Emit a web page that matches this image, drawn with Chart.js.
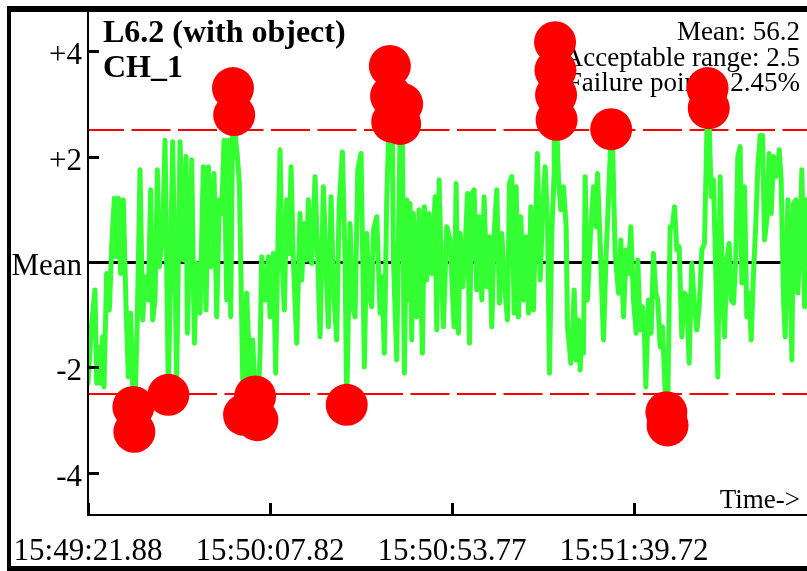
<!DOCTYPE html>
<html>
<head>
<meta charset="utf-8">
<title>L6.2 (with object) CH_1</title>
<script src="https://cdn.jsdelivr.net/npm/chart.js@4.4.0/dist/chart.umd.min.js"></script>
<style>
    html, body { margin: 0; padding: 0; background: #fff; }
    canvas { display: block; }
</style>
</head>
<body>
<canvas id="myChart" width="807" height="571"></canvas>
<script>
// seconds since 15:49:21.88
var times = [
    0.0, 0.93, 1.77, 2.19, 2.61, 3.20, 3.70, 4.04, 4.71, 5.39,
    5.98, 6.65, 7.07, 7.66, 8.25, 8.92, 9.60, 10.18, 10.77, 11.45,
    11.70, 12.46, 13.13, 13.80, 14.39, 15.23, 15.82, 16.33, 16.92, 17.51,
    18.01, 18.85, 19.44, 20.29, 21.38, 22.39, 23.23, 24.07, 24.75, 25.08,
    26.18, 26.85, 27.44, 28.28, 29.12, 29.80, 30.39, 31.06, 31.82, 32.49,
    33.16, 33.75, 34.34, 35.01, 35.44, 36.02, 36.6, 36.9, 37.3, 37.71,
    38.21, 39.05, 39.39, 40.06, 40.91, 41.58, 42.17, 42.76, 43.43, 43.85,
    44.69, 45.54,
    45.95, 46.79, 47.38, 47.89, 48.48, 49.07, 49.57, 50.16, 50.75, 51.26,
    51.84, 52.69, 53.53, 53.95, 54.62, 55.21, 55.63, 56.47, 57.32, 57.99,
    58.58, 59.42, 60.01, 60.68, 61.36, 61.94, 62.79, 63.38, 64.22, 64.89,
    65.31, 66.15, 66.74, 67.42, 68.09, 68.93, 69.77, 70.36, 70.95, 71.62,
    72.05, 72.89, 73.73, 74.15, 74.82, 75.41, 75.83, 76.2, 76.5, 76.8,
    77.1, 77.94, 78.36, 78.8, 79.3, 79.62, 79.87, 80.46, 80.88, 81.30,
    81.72, 82.15, 82.99, 83.58, 84.42, 84.92, 85.51, 86.10, 86.78, 87.62,
    88.04, 88.63, 89.13, 89.72, 90.56, 91.40,
    92.42, 92.93, 93.51, 93.94, 94.61, 95.20, 95.79, 96.29, 96.88, 97.47,
    98.14, 98.82, 99.41, 99.99, 100.67, 101.34, 101.93, 102.52, 103.19, 103.87,
    104.46, 105.30, 105.89, 106.39, 106.98, 107.57, 108.08, 108.66, 109.25, 109.93,
    110.60, 111.19, 111.78, 112.45, 113.13, 113.46, 114.14, 114.81, 115.40, 115.99,
    116.49, 117.08, 117.67, 117.9, 118.0, 118.15, 118.3, 118.77, 119.35, 120.03,
    120.70, 121.04, 121.54, 121.88, 122.38, 122.72, 123.23, 123.82, 124.24, 124.66,
    125.08, 125.50, 126.09, 126.76, 127.60, 128.28, 128.61, 129.29, 129.71, 130.13,
    130.80, 131.39, 132.06, 132.48, 133.07, 133.92, 134.51, 135.18, 135.85, 136.44,
    137.03, 137.70, 138.38,
    138.79, 139.38, 139.97, 140.47, 140.81, 141.48, 142.16, 142.74, 143.33, 143.84,
    144.43, 145.02, 145.69, 146.0, 146.3, 146.95, 147.54, 148.05, 148.64, 149.23,
    149.90, 150.57, 151.16, 151.75, 152.42, 153.10, 153.69, 154.28, 154.95, 155.62,
    156.21, 156.4, 156.7, 157.31, 157.90, 158.48, 158.99, 159.58, 160.17, 160.67,
    161.26, 161.85, 162.36, 162.95, 163.53, 164.04, 164.63, 165.05, 165.72, 166.31,
    166.90, 167.41, 167.99, 168.58, 169.09, 169.68, 170.27, 170.77, 171.36, 171.95,
    172.46, 173.05, 173.63, 174.14, 174.48, 174.98, 175.57, 176.00, 176.67, 177.26,
    177.68, 178.10, 178.69, 179.19, 179.78, 180.20, 180.87, 181.46
];

// deviation from the mean
var values = [
    -2.30, -1.16, -0.53, -2.30, -1.61, -2.30, -1.42, -2.37, -0.22, -0.91,
    0.29, 1.21, 0.10, 1.21, -0.22, 1.18, -0.85, -2.18, -0.97, -2.75,
    -3.22, -1.04, 1.75, -1.10, -0.28, -0.72, 1.37, -1.10, -0.72, 1.75,
    -0.09, 0.54, 2.31, -2.52, 2.28, -2.18, 2.28, 0.04, 2.00, -1.35,
    1.94, -1.54, -0.03, -0.97, 1.81, -0.91, 1.81, -0.09, 1.68, -1.04,
    1.18, 0.92, 2.31, -0.72, 2.31, -1.04, 3.30, 2.79, 2.31, 2.00,
    1.49, -2.18, -2.90, -0.59, -2.24, -1.48, -2.55, -3.00, -1.73, 0.10,
    -0.72, 0.10,
    -1.04, 0.16, -2.11, 0.16, 2.13, -0.09, -0.91, 1.18, 0.16, 1.81,
    0.04, -1.54, 0.92, -0.34, 0.73, 0.04, 1.18, -0.03, 1.62, 0.04,
    -1.42, 1.43, 0.10, -1.23, 1.24, -0.47, -1.48, 1.05, 2.09, 0.04,
    -2.71, 0.73, -0.85, -1.04, 1.75, 2.06, -1.99, 0.54, -0.59, -0.85,
    0.61, 0.86, -0.97, -0.28, -1.73, 1.18, 2.25, 3.72, 3.15, 2.66,
    0.04, -1.86, 0.35, 2.62, 3.00, -0.09, -2.11, 1.18, -0.72, 1.11,
    -1.48, 0.92, -1.04, 0.99, -1.73, 1.05, -0.34, 0.92, -0.22, 1.24,
    -1.29, 1.56, 0.04, -1.23, 0.67, 0.42,
    -1.23, 1.49, -1.35, 0.54, -0.47, 0.23, 1.30, -1.54, 1.30, 1.37,
    -0.53, 0.86, -0.72, 1.24, -0.47, 0.48, -1.23, 0.54, 1.37, -0.78,
    0.54, -0.59, -1.10, 1.49, 1.62, -0.97, 1.43, -1.04, 0.86, -0.72,
    0.48, -0.97, 1.05, -0.91, 1.11, 2.06, -0.34, 1.05, 1.81, 0.80,
    -2.11, 0.54, 1.68, 4.17, 3.64, 3.17, 2.70, 1.56, 0.99, 1.43,
    0.67, -1.23, -1.61, -1.92, -1.23, -0.53, -1.86, -1.10, -2.05, -1.23,
    -1.73, 1.62, -0.72, 0.42, 1.43, 0.67, 1.68, 0.35, -0.59, -1.48,
    0.16, 1.18, 2.52, 2.06, 0.16, -0.59, 0.42, -1.04, 0.23, -0.22,
    0.67, -0.72, -1.35,
    0.04, -1.29, -0.85, -1.35, -2.37, -0.72, -1.35, 0.16, -0.59, -0.72,
    -1.61, -1.23, -2.43, -2.85, -3.10, 0.67, 0.67, 1.05, 0.23, 0.29,
    -1.42, -0.59, -0.66, -1.92, -0.03, -0.85, -1.29, -0.85, 0.23, 0.35,
    2.40, 3.30, 2.92, 1.24, 1.56, -0.22, -2.18, 1.62, -0.47, -1.42,
    0.04, 0.35, -0.72, -0.78, 0.10, 2.00, 2.19, -0.40, 1.43, -1.04,
    -0.59, -1.48, -0.22, 0.73, 1.81, 2.40, 2.40, 0.42, 0.80, 2.06,
    0.92, 2.00, 1.62, 1.75, 2.13, 1.56, -0.72, -1.42, 1.18, -0.22,
    -1.86, 1.11, 1.18, -0.59, 0.54, 1.75, -0.85, 1.18
];

var meanValue = 0;
var limit = 2.5;
var timeSpan = 181.5;

var xTickValues = [0, 45.94, 91.89, 137.84];
var xTickLabels = ['15:49:21.88', '15:50:07.82', '15:50:53.77', '15:51:39.72'];
var yTickValues = [4, 2, 0, -2, -4];
var yTickLabels = ['+4', '+2', 'Mean', '-2', '-4'];

var titleLines = ['L6.2 (with object)', 'CH_1'];
var statLines = ['Mean: 56.2', 'Acceptable range: 2.5', 'Failure points: 2.45%'];
var axisName = 'Time->';

var serif = '"Liberation Serif", "DejaVu Serif", serif';

var linePoints = times.map(function(t, i) { return {x: t, y: values[i]}; });
var failPoints = linePoints.filter(function(p) { return Math.abs(p.y - meanValue) > limit; });

var decor = {
    id: 'decor',
    beforeDatasetsDraw: function(chart) {
        var ctx = chart.ctx;
        var ys = chart.scales.y;
        var area = chart.chartArea;
        ctx.save();

        // mean line
        var my = Math.round(ys.getPixelForValue(meanValue)) + 0.5;
        ctx.strokeStyle = '#000';
        ctx.lineWidth = 3;
        ctx.beginPath();
        ctx.moveTo(area.left, my);
        ctx.lineTo(area.right, my);
        ctx.stroke();

        // acceptable range
        ctx.strokeStyle = '#ff0000';
        ctx.lineWidth = 2;
        ctx.setLineDash([39, 7.5]);
        ctx.lineDashOffset = 3;
        [meanValue + limit, meanValue - limit].forEach(function(v) {
            var py = Math.round(ys.getPixelForValue(v));
            ctx.beginPath();
            ctx.moveTo(area.left, py);
            ctx.lineTo(area.right, py);
            ctx.stroke();
        });
        ctx.setLineDash([]);

        // title + stats
        ctx.fillStyle = '#000';
        ctx.textBaseline = 'alphabetic';
        ctx.textAlign = 'left';
        ctx.font = 'bold 32px ' + serif;
        titleLines.forEach(function(s, i) {
            ctx.fillText(s, area.left + 15, 42 + i * 35);
        });
        ctx.textAlign = 'right';
        ctx.font = '27px ' + serif;
        statLines.forEach(function(s, i) {
            ctx.fillText(s, 800, 40 + i * 25.5);
        });
        ctx.restore();
    },
    afterDatasetsDraw: function(chart) {
        var ctx = chart.ctx;
        var xs = chart.scales.x;
        var ys = chart.scales.y;
        var area = chart.chartArea;
        ctx.save();
        ctx.fillStyle = '#000';
        ctx.strokeStyle = '#000';

        // axes
        ctx.lineWidth = 2;
        ctx.beginPath();
        ctx.moveTo(area.left, 12);
        ctx.lineTo(area.left, area.bottom);
        ctx.lineTo(area.right, area.bottom);
        ctx.stroke();

        // tick marks, pointing inwards
        ctx.lineWidth = 3;
        xTickValues.forEach(function(v) {
            var px = Math.round(xs.getPixelForValue(v)) + 0.5;
            ctx.beginPath();
            ctx.moveTo(px, area.bottom);
            ctx.lineTo(px, area.bottom - 12);
            ctx.stroke();
        });
        yTickValues.forEach(function(v) {
            var py = Math.round(ys.getPixelForValue(v)) + 0.5;
            ctx.beginPath();
            ctx.moveTo(area.left, py);
            ctx.lineTo(area.left + 11, py);
            ctx.stroke();
        });

        // tick labels
        ctx.font = '31px ' + serif;
        ctx.textBaseline = 'alphabetic';
        ctx.textAlign = 'right';
        yTickValues.forEach(function(v, i) {
            ctx.fillText(yTickLabels[i], area.left - 6, ys.getPixelForValue(v) + 13);
        });
        ctx.textAlign = 'center';
        xTickValues.forEach(function(v, i) {
            ctx.fillText(xTickLabels[i], xs.getPixelForValue(v), 560);
        });

        ctx.font = '27px ' + serif;
        ctx.textAlign = 'right';
        ctx.fillText(axisName, 800, 508);

        // frame
        ctx.fillRect(7, 6, chart.width - 7, 6);
        ctx.fillRect(7, 6, 4, chart.height - 6);
        ctx.fillRect(7, 566, chart.width - 7, 5);
        ctx.restore();
    }
};

var ctx = document.getElementById('myChart').getContext('2d');
var myChart = new Chart(ctx, {
    type: 'line',
    data: {
        datasets: [{
            label: 'Failure points',
            data: failPoints,
            showLine: false,
            pointRadius: 21,
            pointHoverRadius: 21,
            pointBackgroundColor: '#ff0000',
            pointBorderColor: '#ff0000',
            pointBorderWidth: 0,
            clip: false,
            order: 0
        }, {
            label: 'CH_1',
            data: linePoints,
            borderColor: '#33ff33',
            borderWidth: 5,
            borderJoinStyle: 'round',
            borderCapStyle: 'round',
            pointRadius: 0,
            tension: 0,
            fill: false,
            order: 1
        }]
    },
    options: {
        responsive: false,
        devicePixelRatio: 1,
        animation: false,
        layout: { autoPadding: false, padding: { top: 12, right: 0, bottom: 0, left: 0 } },
        plugins: {
            legend: { display: false },
            tooltip: { enabled: false }
        },
        scales: {
            x: {
                type: 'linear',
                min: 0,
                max: timeSpan,
                grid: { display: false, drawTicks: false },
                border: { display: false },
                ticks: { display: false },
                afterBuildTicks: function(scale) {
                    scale.ticks = xTickValues.map(function(v) { return {value: v}; });
                },
                afterFit: function(scale) { scale.height = 56; }
            },
            y: {
                type: 'linear',
                min: -4.8,
                max: 4.744,
                grid: { display: false, drawTicks: false },
                border: { display: false },
                ticks: { display: false },
                afterBuildTicks: function(scale) {
                    scale.ticks = yTickValues.map(function(v) { return {value: v}; });
                },
                afterFit: function(scale) { scale.width = 88; }
            }
        }
    },
    plugins: [decor]
});
</script>
</body>
</html>
